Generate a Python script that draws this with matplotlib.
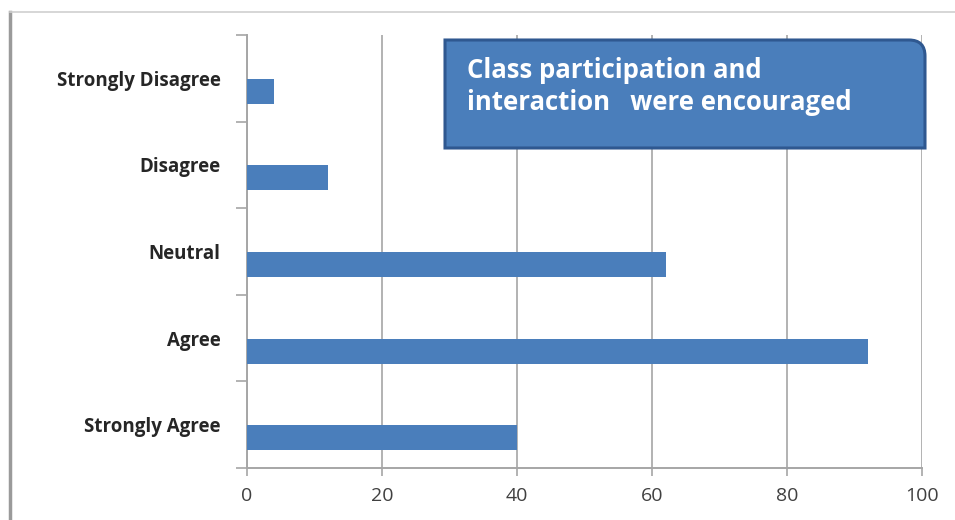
import matplotlib
matplotlib.use("Agg")
import matplotlib.pyplot as plt
from matplotlib.path import Path
from matplotlib.patches import PathPatch
from matplotlib.lines import Line2D

categories = ["Strongly Agree", "Agree", "Neutral", "Disagree", "Strongly Disagree"]
values = [40, 92, 62, 12, 4]
x_ticks = [0, 20, 40, 60, 80, 100]
title_lines = ["Class participation and", "interaction   were encouraged"]

W, H = 955, 520
fig = plt.figure(figsize=(W / 100, H / 100), dpi=100)
fig.patch.set_facecolor("white")

bar_color = "#4a7ebb"
grid_color = "#a6a6a6"

ax = fig.add_axes([247 / W, 1 - 468 / H, (922 - 247) / W, (468 - 35) / H])
ypos = list(range(len(categories)))
# bars sit in the lower slot of each category band (clustered layout)
bar_offset = -0.15
ax.barh([y + bar_offset for y in ypos], values, height=0.29, color=bar_color, zorder=3)

ax.set_xlim(0, 100)
ax.set_ylim(-0.5, len(categories) - 0.5)
ax.set_xticks(x_ticks)
ax.set_xticklabels([str(t) for t in x_ticks], fontsize=14, color="#404040",
                   family=["Open Sans", "DejaVu Sans"])
ax.set_yticks(ypos)
ax.set_yticklabels(categories, fontsize=13.5, fontweight="bold", color="#262626",
                   family=["Open Sans", "DejaVu Sans"])
ax.set_yticks([i - 0.5 for i in range(len(categories) + 1)], minor=True)
ax.tick_params(axis="y", which="major", length=0, pad=19)
ax.tick_params(axis="y", which="minor", length=8, width=1.2, color=grid_color)
ax.tick_params(axis="x", which="major", length=6, width=1.2, color=grid_color, pad=8)

ax.grid(axis="x", color=grid_color, linewidth=1.2, zorder=0)
for side in ["top", "right"]:
    ax.spines[side].set_visible(False)
for side in ["left", "bottom"]:
    ax.spines[side].set_color(grid_color)
    ax.spines[side].set_linewidth(1.4)

# Title box with a rounded top-right corner (figure pixel coordinates)
x0, x1 = 445, 925
y_top, y_bot = H - 40, H - 148
r = 16
verts = [
    (x0, y_bot), (x0, y_top), (x1 - r, y_top),
    (x1, y_top), (x1, y_top - r),
    (x1, y_bot), (x0, y_bot),
]
codes = [Path.MOVETO, Path.LINETO, Path.LINETO,
         Path.CURVE3, Path.CURVE3,
         Path.LINETO, Path.CLOSEPOLY]
box = PathPatch(Path(verts, codes), facecolor=bar_color, edgecolor="#2f5890",
                linewidth=2.2, transform=None, zorder=5)
fig.patches.append(box)

for i, line in enumerate(title_lines):
    fig.text(467 / W, 1 - (70 + 33 * i) / H, line, fontsize=18.5, fontweight="bold",
             color="white", va="center", ha="left",
             family=["Open Sans", "DejaVu Sans"], zorder=6)

# Outer chart frame edges
fig.add_artist(Line2D([10 / W, 10 / W], [0, 1 - 12 / H], transform=fig.transFigure,
                      color="#9a9a9a", linewidth=2.5))
fig.add_artist(Line2D([10 / W, 1], [1 - 12 / H, 1 - 12 / H], transform=fig.transFigure,
                      color="#d0d0d0", linewidth=1.2))

fig.savefig("out.png", dpi=100)
